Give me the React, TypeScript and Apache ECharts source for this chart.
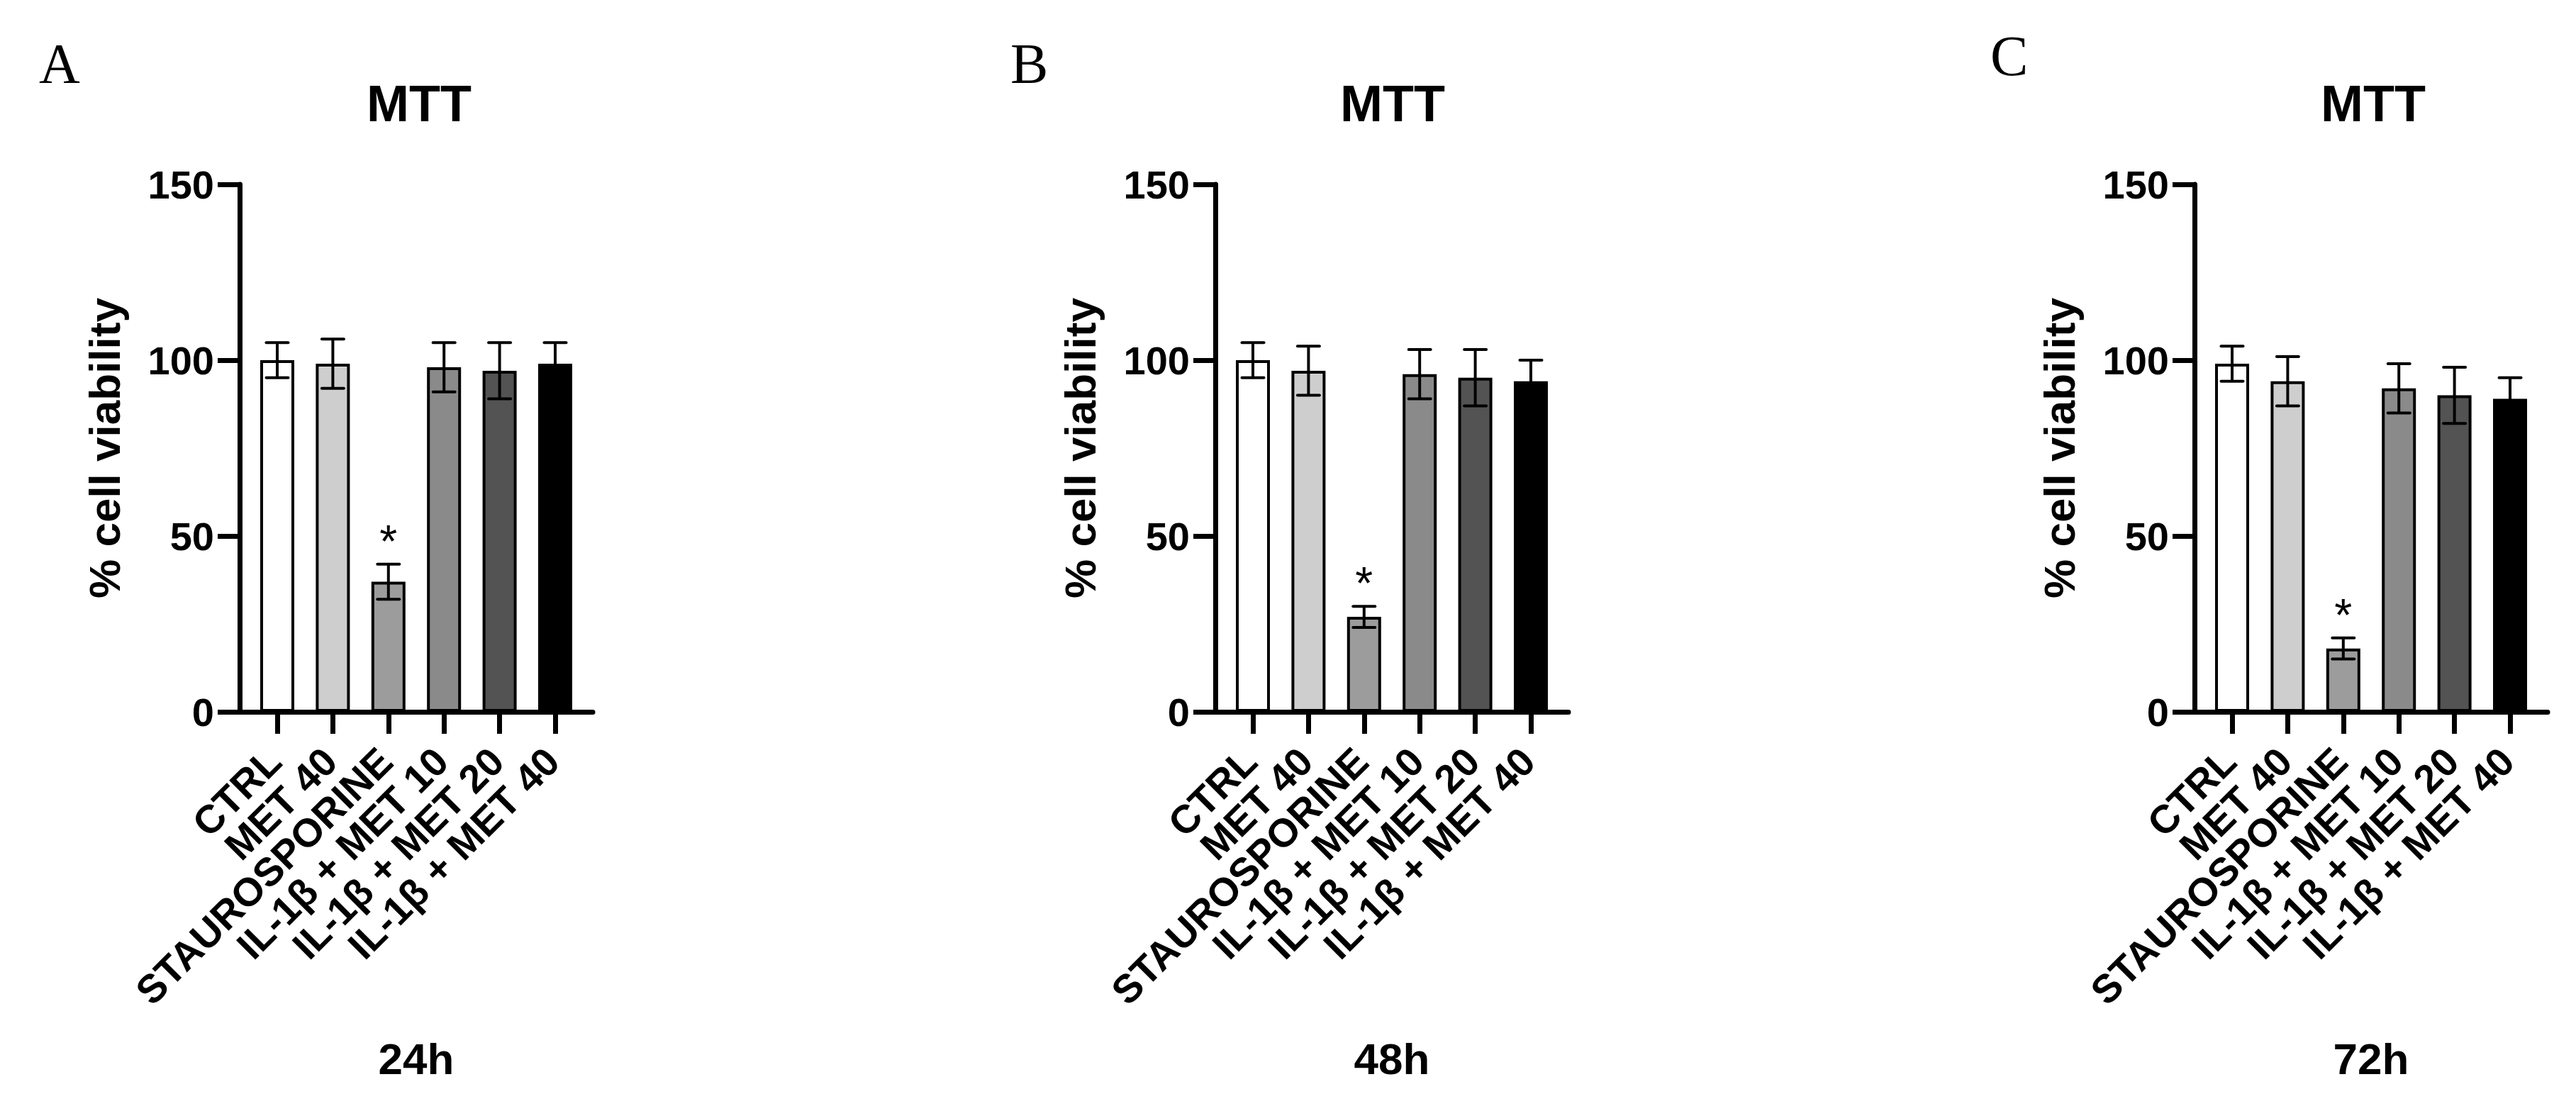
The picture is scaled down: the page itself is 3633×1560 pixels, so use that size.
import {useEffect, useRef} from 'react';
import * as echarts from 'echarts';

// data
const assay = 'MTT';
const categories = ['CTRL', 'MET 40', 'STAUROSPORINE', 'IL-1β + MET 10', 'IL-1β + MET 20', 'IL-1β + MET 40'];
const timePoints = ['24h', '48h', '72h'];
const panelLetters = ['A', 'B', 'C'];
const viability24h = [100, 99, 37, 98, 97, 99];
const sd24h = [5, 7, 5, 7, 8, 6];
const viability48h = [100, 97, 27, 96, 95, 94];
const sd48h = [5, 7, 3, 7, 8, 6];
const viability72h = [99, 94, 18, 92, 90, 89];
const sd72h = [5, 7, 3, 7, 8, 6];
const significance = ['', '', '*', '', '', ''];
const yTicks = [0, 50, 100, 150];

// styling / layout
const FONT = '"Liberation Sans", Arial, Helvetica, sans-serif';
const SERIF = '"Liberation Serif", "Times New Roman", serif';
const barFills = ['#ffffff', '#cecece', '#9c9c9c', '#8a8a8a', '#535353', '#000000'];
const axisLefts = [338, 1714, 3095];
const titleCentres = [591, 1964, 3347];
const letterPos = [[55, 90], [1425, 90], [2807, 79]];
const plotTop = 260;
const plotWidth = 498;
const plotHeight = 744;
const bandWidth = 78.4; // distance between bar centres
const firstCentre = 53; // first bar centre, measured from the y axis

export default function App() {
    const chartRef = useRef<HTMLDivElement | null>(null);

    useEffect(() => {
        const el = chartRef.current;
        if (!el) return;
        const chart = echarts.init(el, null, {renderer: 'svg'});

        const panels = [
            {means: viability24h, sd: sd24h},
            {means: viability48h, sd: sd48h},
            {means: viability72h, sd: sd72h},
        ];
        const black = '#000';
        const yRange = {min: yTicks[0], max: yTicks[yTicks.length - 1], interval: yTicks[1] - yTicks[0]};

        const grid: any[] = [];
        const xAxis: any[] = [];
        const yAxis: any[] = [];
        const series: any[] = [];
        const graphic: any[] = [];

        panels.forEach((p, i) => {
            // frame grid: full-width x axis line and the y axis
            const frame = grid.length;
            grid.push({left: axisLefts[i], top: plotTop, width: plotWidth, height: plotHeight, containLabel: false});
            xAxis.push({
                type: 'value', gridIndex: frame, min: 0, max: 1,
                axisLine: {show: true, onZero: false, lineStyle: {color: black, width: 7}},
                axisTick: {show: false}, axisLabel: {show: false}, splitLine: {show: false},
            });
            yAxis.push({
                type: 'value', gridIndex: frame, ...yRange,
                name: '% cell viability', nameLocation: 'middle', nameGap: 160,
                nameTextStyle: {fontFamily: FONT, fontWeight: 'bold', fontSize: 62, color: black},
                splitLine: {show: false},
                axisLine: {show: true, onZero: false, lineStyle: {color: black, width: 7}},
                axisTick: {show: true, length: 31, lineStyle: {color: black, width: 7}},
                axisLabel: {margin: 36, fontFamily: FONT, fontWeight: 'bold', fontSize: 56, color: black},
            });

            // data grid: category bands centred on the bars
            const data = grid.length;
            grid.push({
                left: axisLefts[i] + firstCentre - bandWidth / 2, top: plotTop,
                width: bandWidth * categories.length, height: plotHeight, containLabel: false,
            });
            xAxis.push({
                type: 'category', gridIndex: data, data: categories, boundaryGap: true,
                name: timePoints[i], nameLocation: 'middle', nameGap: 458,
                nameTextStyle: {fontFamily: FONT, fontWeight: 'bold', fontSize: 62, color: black},
                splitLine: {show: false},
                axisLine: {show: false, onZero: false},
                axisTick: {show: true, alignWithLabel: true, interval: 0, length: 31, lineStyle: {color: black, width: 7}},
                axisLabel: {
                    interval: 0, rotate: 45, margin: 56, padding: [0, 6, 0, 0],
                    fontFamily: FONT, fontWeight: 'bold', fontSize: 56, color: black,
                },
            });
            yAxis.push({
                type: 'value', gridIndex: data, ...yRange, show: false,
                splitLine: {show: false},
            });

            series.push({
                type: 'bar', xAxisIndex: data, yAxisIndex: data, barWidth: 48, silent: true,
                data: p.means.map((m, k) => ({
                    value: m,
                    itemStyle: {color: barFills[k], borderColor: black, borderWidth: 4},
                })),
            });
            series.push({
                type: 'custom', xAxisIndex: data, yAxisIndex: data, silent: true, z: 5,
                data: p.means.map((m, k) => [k, m - p.sd[k], m + p.sd[k]]),
                renderItem: (_params: any, api: any) => {
                    const k = api.value(0);
                    const lo = api.coord([k, api.value(1)]);
                    const hi = api.coord([k, api.value(2)]);
                    const half = 15.5;
                    const style = {stroke: black, lineWidth: 4};
                    const capStyle = {stroke: black, lineWidth: 4, lineCap: 'round'};
                    const children: any[] = [
                        {type: 'line', shape: {x1: hi[0], y1: hi[1], x2: lo[0], y2: lo[1]}, style},
                        {type: 'line', shape: {x1: hi[0] - half, y1: hi[1], x2: hi[0] + half, y2: hi[1]}, style: capStyle},
                        {type: 'line', shape: {x1: lo[0] - half, y1: lo[1], x2: lo[0] + half, y2: lo[1]}, style: capStyle},
                    ];
                    const mark = significance[k];
                    if (mark) {
                        children.push({
                            type: 'text', x: hi[0], y: hi[1] - 32,
                            style: {
                                text: mark, fontSize: 64, fontFamily: FONT, fill: black,
                                textAlign: 'center', textVerticalAlign: 'middle',
                            },
                        });
                    }
                    return {type: 'group', children};
                },
            });

            graphic.push({
                type: 'text', x: titleCentres[i], y: 146,
                style: {
                    text: assay, fontSize: 72, fontWeight: 'bold', fontFamily: FONT, fill: black,
                    textAlign: 'center', textVerticalAlign: 'middle',
                },
            });
            graphic.push({
                type: 'text', x: letterPos[i][0], y: letterPos[i][1],
                style: {
                    text: panelLetters[i], fontSize: 80, fontFamily: SERIF, fill: black,
                    textAlign: 'left', textVerticalAlign: 'middle',
                },
            });
        });

        chart.setOption({
            animation: false,
            backgroundColor: '#ffffff',
            grid, xAxis, yAxis, series, graphic,
        });

        return () => {
            chart.dispose();
        };
    }, []);

    return (
        <div
            ref={chartRef}
            style={{position: 'absolute', left: 0, top: 0, width: '3633px', height: '1560px'}}
        />
    );
}
